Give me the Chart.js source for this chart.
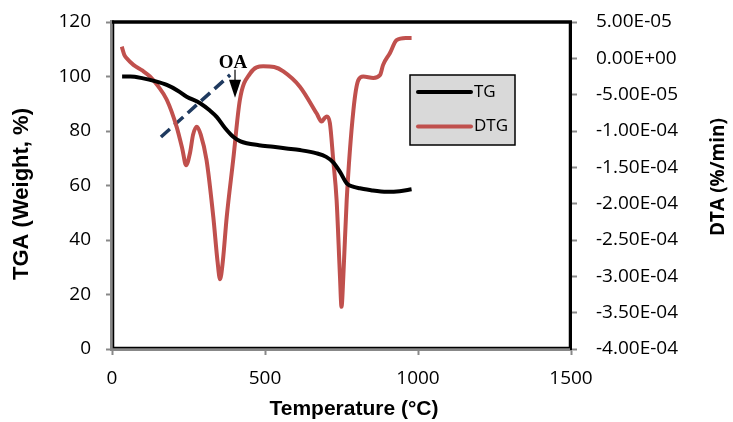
<!DOCTYPE html>
<html lang="en">

<head>
    <meta charset="UTF-8">
    <script src="https://cdn.jsdelivr.net/npm/chart.js@4.4.0/dist/chart.umd.min.js"></script>
    <title>TGA / DTG</title>
    <style>
        html, body { margin: 0; padding: 0; background: #ffffff; }
        #wrap { width: 733px; height: 422px; }
    </style>
</head>

<body>
    <div id="wrap"><canvas id="myChart"></canvas></div>
    <script>
        // TG curve (left axis, weight %)
        const tgTemp = [33, 60, 102, 140, 179, 215, 244, 288, 320, 342, 370, 396, 420, 440, 480, 527, 570, 614, 669, 700, 723, 745, 767, 790, 810, 850, 898, 940, 979];
        const tgWeight = [100, 100, 99.3, 98.3, 96.9, 94.8, 92.6, 90.2, 87.5, 85.2, 81, 77.9, 76.2, 75.5, 74.8, 74.2, 73.6, 73.0, 71.8, 70.5, 68.5, 65, 60.8, 59.5, 59, 58.2, 57.7, 57.9, 58.6];

        // DTG curve (right axis, %/min)
        const dtgTemp = [32, 40, 48, 70, 100, 124, 150, 179, 211, 230, 242, 255, 265, 277, 290, 309, 331, 345, 353, 362, 375, 396, 418, 451, 494, 530, 560, 614, 669, 685, 695, 702, 712, 723, 734, 745, 750, 756, 767, 789, 805, 821, 854, 876, 886, 908, 930, 960, 979];
        const dtgRate = [1.6e-5, 0.5e-5, 0, -0.9e-5, -1.7e-5, -2.5e-5, -3.8e-5, -5.7e-5, -9.4e-5, -1.25e-4, -1.47e-4, -1.3e-4, -1.05e-4, -0.94e-4, -1.05e-4, -1.40e-4, -2.18e-4, -2.8e-4, -3.04e-4, -2.8e-4, -2.18e-4, -1.40e-4, -0.57e-4, -0.21e-4, -0.11e-4, -0.12e-4, -0.18e-4, -0.39e-4, -0.76e-4, -0.87e-4, -0.82e-4, -0.80e-4, -0.89e-4, -1.40e-4, -1.95e-4, -3.0e-4, -3.42e-4, -3.0e-4, -1.95e-4, -0.71e-4, -0.30e-4, -0.25e-4, -0.27e-4, -0.23e-4, -0.09e-4, 0.07e-4, 0.25e-4, 0.28e-4, 0.28e-4];

        // dashed onset guide line (left axis)
        const onsetTemp = [160, 386];
        const onsetWeight = [77.8, 100.6];

        // "OA" marker: arrow from/to weight at a temperature
        const oaTemp = 402;
        const oaFrom = 102.5;
        const oaTo = 92.2;

        const dtaTicks = [5e-5, 0, -5e-5, -1e-4, -1.5e-4, -2e-4, -2.5e-4, -3e-4, -3.5e-4, -4e-4];

        const xTitle = 'Temperature (°C)';
        const yTitle = 'TGA (Weight, %)';
        const y2Title = 'DTA (%/min)';

        const pts = (xs, ys) => xs.map((x, i) => ({ x: x, y: ys[i] }));

        function sci(v) {
            if (Math.abs(v) < 1e-12) return '0.00E+00';
            const parts = v.toExponential(2).split('e');
            const sign = parts[1][0];
            const exp = parts[1].slice(1).padStart(2, '0');
            return parts[0] + 'E' + sign + exp;
        }

        const frame = {
            id: 'frame',
            beforeDatasetsDraw(chart) {
                const a = chart.chartArea;
                const c = chart.ctx;
                c.save();
                c.strokeStyle = '#000';
                c.lineWidth = 1.5;
                c.strokeRect(a.left + 1.5, a.top, a.right - a.left - 3, a.bottom - a.top - 1.5);
                c.lineWidth = 3.5;
                c.beginPath();
                c.moveTo(a.left, a.top);
                c.lineTo(a.right + 1, a.top);
                c.stroke();

                // axis titles
                c.fillStyle = '#000';
                c.textAlign = 'center';
                c.textBaseline = 'middle';
                c.font = 'bold 21px "Liberation Sans", Arial, sans-serif';
                c.fillText(xTitle, 354, 409);
                c.save();
                c.translate(22, 194);
                c.rotate(-Math.PI / 2);
                c.font = 'bold 22px "Liberation Sans", Arial, sans-serif';
                c.fillText(yTitle, 0, 0);
                c.restore();
                c.save();
                c.translate(719, 177);
                c.rotate(-Math.PI / 2);
                c.font = 'bold 19px "Open Sans", sans-serif';
                c.fillText(y2Title, 0, 0);
                c.restore();
                c.restore();
            },
            afterDatasetsDraw(chart) {
                const c = chart.ctx;
                const x = chart.scales.x;
                const y = chart.scales.y;
                c.save();
                // OA arrow
                const ax = x.getPixelForValue(oaTemp);
                const y0 = y.getPixelForValue(oaFrom);
                const y1 = y.getPixelForValue(oaTo);
                c.strokeStyle = '#000';
                c.fillStyle = '#000';
                c.lineWidth = 1.2;
                c.beginPath();
                c.moveTo(ax, y0);
                c.lineTo(ax, y1 - 10);
                c.stroke();
                c.beginPath();
                c.moveTo(ax - 6, y1 - 18);
                c.lineTo(ax + 6, y1 - 18);
                c.lineTo(ax, y1);
                c.closePath();
                c.fill();
                c.font = 'bold 19px "Liberation Serif", serif';
                c.textAlign = 'center';
                c.textBaseline = 'alphabetic';
                c.fillText('OA', ax - 2, y0 - 2);

                // legend box
                const lx = 410, ly = 75, lw = 105, lh = 70;
                c.fillStyle = '#d9d9d9';
                c.fillRect(lx, ly, lw, lh);
                c.strokeStyle = '#000';
                c.lineWidth = 1.5;
                c.strokeRect(lx, ly, lw, lh);
                const items = chart.data.datasets.filter(d => d.label);
                c.font = '17px "Open Sans", sans-serif';
                c.textAlign = 'left';
                c.textBaseline = 'middle';
                items.forEach((d, i) => {
                    const yy = ly + 17 + i * 34.5;
                    c.strokeStyle = d.borderColor;
                    c.lineWidth = 4;
                    c.lineCap = 'round';
                    c.beginPath();
                    c.moveTo(lx + 8, yy);
                    c.lineTo(lx + 61, yy);
                    c.stroke();
                    c.fillStyle = '#000';
                    c.fillText(d.label, lx + 64, yy);
                });
                c.restore();
            }
        };

        const tickFont = { family: '"Open Sans", sans-serif', size: 19 };
        const grid = { drawOnChartArea: false, drawTicks: true, tickLength: 6, tickColor: '#888', tickWidth: 2 };

        new Chart(document.getElementById('myChart'), {
            type: 'line',
            data: {
                datasets: [{
                    label: 'TG',
                    data: pts(tgTemp, tgWeight),
                    yAxisID: 'y',
                    borderColor: '#000000',
                    borderWidth: 4,
                    pointRadius: 0,
                    cubicInterpolationMode: 'monotone'
                }, {
                    label: 'DTG',
                    data: pts(dtgTemp, dtgRate),
                    yAxisID: 'y2',
                    borderColor: '#C0504D',
                    borderWidth: 4,
                    pointRadius: 0,
                    cubicInterpolationMode: 'monotone'
                }, {
                    label: '',
                    data: pts(onsetTemp, onsetWeight),
                    yAxisID: 'y',
                    borderColor: '#1F3A5F',
                    borderWidth: 3.5,
                    borderDash: [12, 6],
                    pointRadius: 0
                }]
            },
            options: {
                responsive: true,
                maintainAspectRatio: false,
                animation: false,
                layout: { padding: { top: 22, left: 0, right: 0, bottom: 0 } },
                plugins: { legend: { display: false }, tooltip: { enabled: false } },
                scales: {
                    x: {
                        type: 'linear',
                        min: 0,
                        max: 1500,
                        ticks: { stepSize: 500, font: tickFont, color: '#000', padding: 12, maxRotation: 0, callback: v => String(v) },
                        grid: grid,
                        border: { color: '#888', width: 4 },
                        afterFit(s) { s.height = 73; s.paddingLeft = 0; s.paddingRight = 0; }
                    },
                    y: {
                        position: 'left',
                        min: 0,
                        max: 120,
                        ticks: { stepSize: 20, font: tickFont, color: '#000', padding: 15 },
                        grid: grid,
                        border: { color: '#888', width: 4 },
                        afterFit(s) { s.width = 112; s.paddingTop = 0; s.paddingBottom = 0; }
                    },
                    y2: {
                        position: 'right',
                        min: -4e-4,
                        max: 5e-5,
                        afterBuildTicks(s) { s.ticks = dtaTicks.map(v => ({ value: v })); },
                        ticks: { font: tickFont, color: '#000', padding: 19, callback: v => sci(v) },
                        grid: grid,
                        border: { color: '#000', width: 2 },
                        afterFit(s) { s.width = 162; s.paddingTop = 0; s.paddingBottom = 0; }
                    }
                }
            },
            plugins: [frame]
        });
    </script>
</body>

</html>
